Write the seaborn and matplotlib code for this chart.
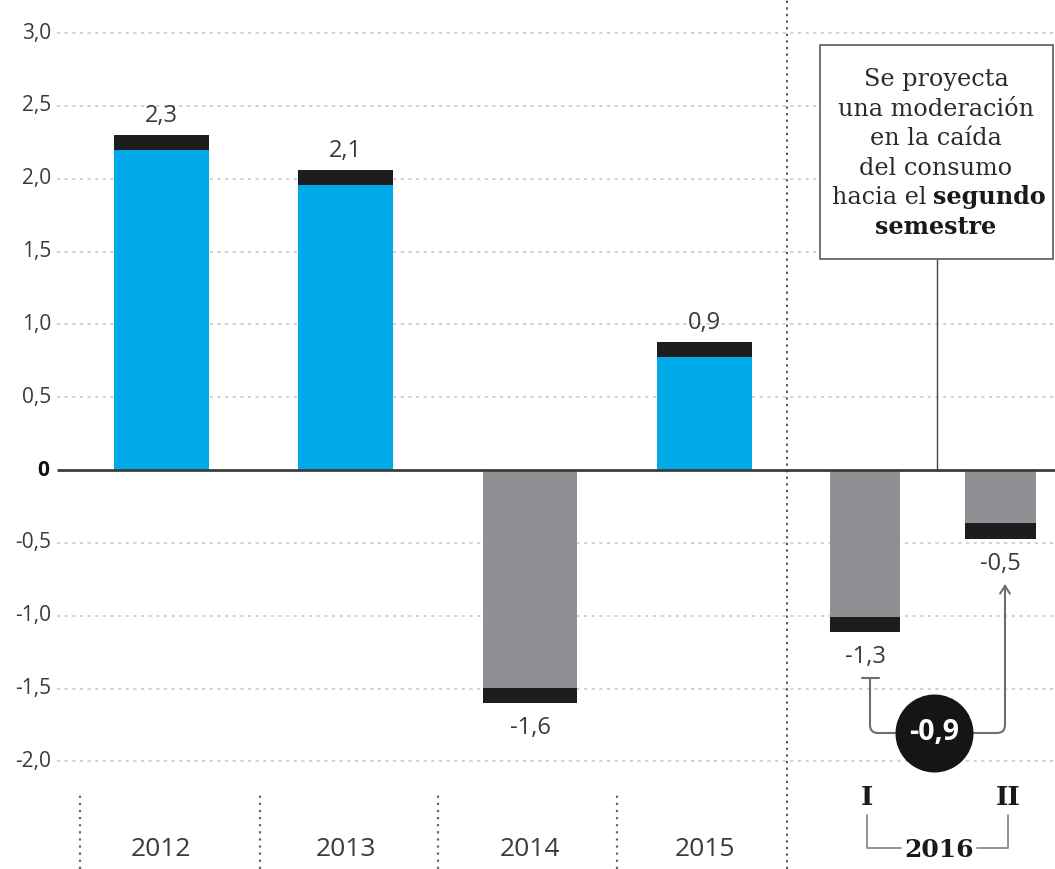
"""Consumo: variación anual y proyección 2016 (recreación)."""

import numpy as np
import pandas as pd
import matplotlib.pyplot as plt
import seaborn as sns
from matplotlib.patches import Rectangle

# ---- data ----
categories = ["2012", "2013", "2014", "2015", "2016-I", "2016-II"]
bar_values = [2.30, 2.06, -1.60, 0.88, -1.11, -0.47]   # bar ends as drawn
value_labels = ["2,3", "2,1", "-1,6", "0,9", "-1,3", "-0,5"]
year_labels = ["2012", "2013", "2014", "2015"]
semester_labels = ["I", "II"]
group_label = "2016"
diff_label = "-0,9"
y_ticks = [3.0, 2.5, 2.0, 1.5, 1.0, 0.5, 0.0, -0.5, -1.0, -1.5, -2.0]
note_lines = ["Se proyecta", "una moderación", "en la caída", "del consumo"]
note_last = ("hacia el", "segundo", "semestre")

# ---- layout (x in pixel-like units, y in data units) ----
x_pos = [161.5, 345.5, 530, 704.5, 865, 1000.5]
cap = 0.105
BLUE, GREY, BLACK = "#00A9E8", "#8F9093", "#1D1D1D"
TXT = "#3a3a3a"
SANS = ["Open Sans", "DejaVu Sans"]
SERIF = ["DejaVu Serif"]


def py(p):
    """pixel row -> data y"""
    return 3.0 - (p - 33) / 145.7


sns.set_style("white")
plt.rcParams["font.family"] = SANS

fig = plt.figure(figsize=(10.55, 8.69), dpi=100)
ax = fig.add_axes([0, 0, 1, 1])

df = pd.DataFrame({"cat": categories, "x": x_pos, "v": bar_values})
df["sign"] = np.where(df["v"] >= 0, "pos", "neg")
df["inner"] = df["v"] - np.sign(df["v"]) * cap
pal = {"pos": BLUE, "neg": GREY}

# grid
grid_y = [t for t in y_ticks if t != 0]
ax.hlines(grid_y, 57, 1055, colors="#c4c4c4", linestyles=(0, (2, 3)), lw=1.1, zorder=0)

for part, width in [(df.iloc[:4], 0.544), (df.iloc[4:], 0.517)]:
    sns.barplot(data=part, x="x", y="v", native_scale=True, width=width,
                color=BLACK, saturation=1, errorbar=None, ax=ax, zorder=2, linewidth=0)
    sns.barplot(data=part, x="x", y="inner", hue="sign", palette=pal, dodge=False,
                native_scale=True, width=width, saturation=1, errorbar=None,
                legend=False, ax=ax, zorder=3, linewidth=0)
ax.set_xlim(0, 1055)
ax.set_ylim(py(869), py(0))
ax.axis("off")

# zero line
ax.hlines(0, 57, 1055, colors="#3c3c3c", lw=2, zorder=4)

# y tick labels
for t in y_ticks:
    if t == 0:
        ax.text(49, t, "0", ha="right", va="center", fontsize=15,
                fontweight="bold", color="#111")
    else:
        ax.text(51, t, f"{t:.1f}".replace(".", ","), ha="right", va="center",
                fontsize=15, color=TXT)

# value labels
for x, v, lab in zip(x_pos, bar_values, value_labels):
    off = 19 if v >= 0 else -25
    ax.annotate(lab, (x, v), xytext=(0, off * 0.72), textcoords="offset points",
                ha="center", va="center", fontsize=17, color=TXT)

# separator between years and 2016
ax.axvline(787, color="#555", lw=1.4, ls=(0, (1.2, 2.2)), zorder=1)

# dotted ticks between years at the bottom
for sx in [80, 260, 438, 617]:
    ax.vlines(sx, py(869), py(792), colors="#666", lw=1.6, linestyles=(0, (1, 2.2)))

# year labels
for x, lab in zip(x_pos[:4], year_labels):
    ax.text(x, py(850), lab, ha="center", va="center", fontsize=19, color=TXT)

# semesters and bracket
sem_x = [867, 1008]
for x, lab in zip(sem_x, semester_labels):
    ax.text(x, py(798), lab, ha="center", va="center", fontsize=19,
            fontweight="bold", family=SERIF, color="#1a1a1a")
ax.text(939, py(850), group_label, ha="center", va="center", fontsize=18,
        fontweight="bold", family=SERIF, color="#1a1a1a")
ax.plot([sem_x[0], sem_x[0], 901], [py(815), py(848), py(848)], color="#8a8a8a", lw=1.3)
ax.plot([977, sem_x[1], sem_x[1]], [py(848), py(848), py(815)], color="#8a8a8a", lw=1.3)

# difference bubble and connector
cy = py(733)
ax.annotate("", xy=(870, py(678)), xytext=(895, cy),
            arrowprops=dict(arrowstyle="-", color="#6e6e6e", lw=1.5, shrinkA=0, shrinkB=0,
                            connectionstyle="angle,angleA=0,angleB=90,rad=8"), zorder=5)
ax.plot([862, 879], [py(678), py(678)], color="#6e6e6e", lw=1.5, zorder=5)
ax.annotate("", xy=(1005, py(584)), xytext=(972, cy),
            arrowprops=dict(arrowstyle="->,head_length=0.55,head_width=0.35", color="#6e6e6e",
                            lw=1.5, shrinkA=0, shrinkB=0,
                            connectionstyle="angle,angleA=0,angleB=90,rad=8"), zorder=5)
ax.scatter([934], [cy], s=(39 * 0.72 * 2) ** 2, color="#151515", zorder=6, linewidths=0)
ax.text(934, cy, diff_label, ha="center", va="center", fontsize=20.5, fontweight="bold",
        color="white", zorder=7)

# note box
box_top, box_bot = py(45), py(259)
ax.add_patch(Rectangle((820, box_bot), 233, box_top - box_bot, facecolor="white",
                       edgecolor="#5a5a5a", lw=1.2, zorder=6))
ax.vlines(937, 0, box_bot, colors="#444", lw=1, zorder=5)
fs = 17.2
for i, line in enumerate(note_lines):
    ax.text(936, py(86 + 29.6 * i), line, ha="center", va="baseline", fontsize=fs,
            family=SERIF, color="#2a2a2a", zorder=7)
ax.text(927, py(86 + 29.6 * 4), note_last[0], ha="right", va="baseline", fontsize=fs,
        family=SERIF, color="#2a2a2a", zorder=7)
ax.text(933, py(86 + 29.6 * 4), note_last[1], ha="left", va="baseline", fontsize=fs,
        family=SERIF, fontweight="bold", color="#1a1a1a", zorder=7)
ax.text(936, py(86 + 29.6 * 5), note_last[2], ha="center", va="baseline", fontsize=fs,
        family=SERIF, fontweight="bold", color="#1a1a1a", zorder=7)

fig.savefig("out.png", dpi=100, facecolor="white")
